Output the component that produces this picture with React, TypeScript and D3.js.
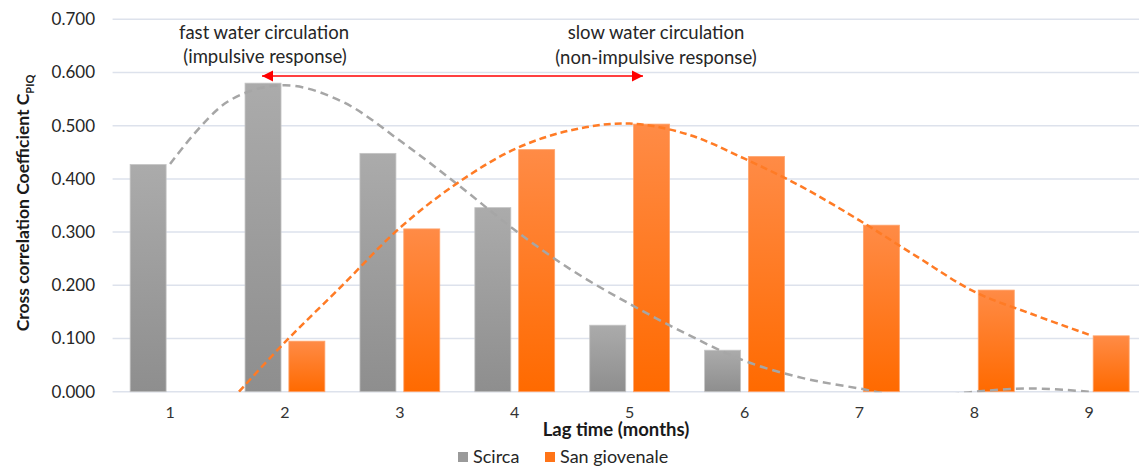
import { useEffect, useRef } from "react"
import * as d3 from "d3"

const lags = ["1", "2", "3", "4", "5", "6", "7", "8", "9"]
const seriesNames = ["Scirca", "San giovenale"]
const scirca = [0.427, 0.58, 0.448, 0.346, 0.125, 0.078, 0, 0, 0]
const sanGiovenale = [0, 0.095, 0.306, 0.455, 0.503, 0.442, 0.313, 0.191, 0.105]
const yTicks = [0, 0.1, 0.2, 0.3, 0.4, 0.5, 0.6, 0.7]

// trendlines as [lag, value]
const scircaTrend: [number, number][] = [
  [1, 0.428], [1.5, 0.545], [2, 0.576], [2.5, 0.545], [3, 0.472], [3.5, 0.39],
  [4, 0.304], [4.5, 0.228], [5, 0.165], [5.5, 0.108], [6, 0.058], [6.5, 0.026],
  [7, 0.006], [7.5, -0.012], [8, 0.0], [8.5, 0.006], [9, 0.0],
]
const sanGiovenaleTrend: [number, number][] = [
  [1.6, 0], [2, 0.093], [2.5, 0.2], [3, 0.308], [3.5, 0.392], [4, 0.456],
  [4.5, 0.492], [5, 0.504], [5.5, 0.484], [6, 0.438], [6.5, 0.385], [7, 0.322],
  [7.5, 0.254], [8, 0.188], [8.5, 0.146], [9, 0.107],
]

const W = 1139
const H = 466
const FONT = "Lato, 'Open Sans', sans-serif"

const App = () => {
  const svgRef = useRef<SVGSVGElement | null>(null)

  useEffect(() => {
    const svg = d3.select(svgRef.current)
    svg.selectAll("*").remove()

    const left = 112.6
    const right = 1146.7
    const y0 = 391.7
    const yTop = 19.3

    const x = d3.scaleBand().domain(lags).range([left, right]).padding(0)
    const xSub = d3
      .scaleBand()
      .domain(seriesNames)
      .range([0, x.bandwidth()])
      .paddingInner(0.179)
      .paddingOuter(0.4)
    const y = d3.scaleLinear().domain([0, 0.7]).range([y0, yTop])
    const xLin = d3
      .scaleLinear()
      .domain([1, 9])
      .range([x("1")! + x.bandwidth() / 2, x("9")! + x.bandwidth() / 2])

    const defs = svg.append("defs")
    const grad = (id: string, top: string, bottom: string) => {
      const g = defs
        .append("linearGradient")
        .attr("id", id)
        .attr("x1", 0).attr("y1", 0).attr("x2", 0).attr("y2", 1)
      g.append("stop").attr("offset", "0%").attr("stop-color", top)
      g.append("stop").attr("offset", "100%").attr("stop-color", bottom)
    }
    grad("g-scirca", "#ababab", "#8e8e8e")
    grad("g-sang", "#ff8b46", "#ff6a00")
    defs
      .append("clipPath")
      .attr("id", "plot-clip")
      .append("rect")
      .attr("x", 0).attr("y", 0).attr("width", W).attr("height", y0 + 0.5)

    const marker = (id: string, orient: string) =>
      defs
        .append("marker")
        .attr("id", id)
        .attr("viewBox", "0 0 10 10")
        .attr("refX", 10).attr("refY", 5)
        .attr("markerWidth", 7).attr("markerHeight", 7)
        .attr("markerUnits", "strokeWidth")
        .attr("orient", orient)
        .append("path")
        .attr("d", "M0,0 L10,5 L0,10 Z")
        .attr("fill", "#ff0000")
    marker("arrow-end", "auto")
    marker("arrow-start", "auto-start-reverse")

    // gridlines
    svg
      .append("g")
      .selectAll("line")
      .data(yTicks)
      .join("line")
      .attr("x1", left).attr("x2", W)
      .attr("y1", (d) => y(d)).attr("y2", (d) => y(d))
      .attr("stroke", "#dde2ec")
      .attr("stroke-width", 1.5)

    // y tick labels
    svg
      .append("g")
      .selectAll("text")
      .data(yTicks)
      .join("text")
      .attr("x", 95)
      .attr("y", (d) => y(d))
      .attr("dy", "0.35em")
      .attr("text-anchor", "end")
      .attr("font-family", FONT)
      .attr("font-size", 17)
      .attr("fill", "#262626")
      .text((d) => d.toFixed(3))

    // x tick labels
    svg
      .append("g")
      .selectAll("text")
      .data(lags)
      .join("text")
      .attr("x", (d) => x(d)! + x.bandwidth() / 2)
      .attr("y", 412)
      .attr("dy", "0.35em")
      .attr("text-anchor", "middle")
      .attr("font-family", FONT)
      .attr("font-size", 16)
      .attr("fill", "#333")
      .text((d) => d)

    // bars
    const rows = lags.map((lag, i) => ({
      lag,
      values: [
        { name: seriesNames[0], v: scirca[i], fill: "url(#g-scirca)", edge: "#c4c4c4" },
        { name: seriesNames[1], v: sanGiovenale[i], fill: "url(#g-sang)", edge: "#ffa36b" },
      ],
    }))
    svg
      .append("g")
      .selectAll("g")
      .data(rows)
      .join("g")
      .attr("transform", (d) => `translate(${x(d.lag)},0)`)
      .selectAll("rect")
      .data((d) => d.values.filter((e) => e.v > 0))
      .join("rect")
      .attr("x", (d) => xSub(d.name)!)
      .attr("y", (d) => y(d.v))
      .attr("width", xSub.bandwidth())
      .attr("height", (d) => y0 - y(d.v))
      .attr("fill", (d) => d.fill)
      .attr("stroke", (d) => d.edge)
      .attr("stroke-width", 0.8)

    // trendlines
    const line = d3
      .line<[number, number]>()
      .x((d) => xLin(d[0]))
      .y((d) => y(d[1]))
      .curve(d3.curveCatmullRom.alpha(0.5))
    const trends = svg.append("g").attr("clip-path", "url(#plot-clip)")
    trends
      .append("path")
      .attr("d", line(scircaTrend))
      .attr("fill", "none")
      .attr("stroke", "#a6a6a6")
      .attr("stroke-width", 2.5)
      .attr("stroke-dasharray", "8,5")
    trends
      .append("path")
      .attr("d", line(sanGiovenaleTrend))
      .attr("fill", "none")
      .attr("stroke", "#ff7b25")
      .attr("stroke-width", 2.5)
      .attr("stroke-dasharray", "7,4")

    // red double arrow
    svg
      .append("line")
      .attr("x1", 262).attr("x2", 643)
      .attr("y1", 76).attr("y2", 76)
      .attr("stroke", "#ff0000")
      .attr("stroke-width", 1.6)
      .attr("marker-start", "url(#arrow-start)")
      .attr("marker-end", "url(#arrow-end)")

    // annotations
    const note = (cx: number, cy: number, s: string) =>
      svg
        .append("text")
        .attr("x", cx).attr("y", cy)
        .attr("dy", "0.35em")
        .attr("text-anchor", "middle")
        .attr("font-family", FONT)
        .attr("font-size", 18.5)
        .attr("fill", "#262626")
        .text(s)
    note(264, 33, "fast water circulation")
    note(265, 57, "(impulsive response)")
    note(656, 33, "slow water circulation")
    note(656, 58, "(non-impulsive response)")

    // axis titles
    svg
      .append("text")
      .attr("x", 616).attr("y", 430)
      .attr("dy", "0.35em")
      .attr("text-anchor", "middle")
      .attr("font-family", FONT)
      .attr("font-size", 18.5)
      .attr("font-weight", "bold")
      .attr("fill", "#1a1a1a")
      .text("Lag time (months)")

    const yt = svg
      .append("text")
      .attr("transform", `translate(23,203) rotate(-90)`)
      .attr("dy", "0.35em")
      .attr("text-anchor", "middle")
      .attr("font-family", FONT)
      .attr("font-size", 17.5)
      .attr("font-weight", "bold")
      .attr("fill", "#1a1a1a")
    yt.append("tspan").text("Cross correlation Coefficient C")
    yt.append("tspan").attr("font-size", 11).attr("dy", "0.45em").text("PIQ")

    // legend
    const legend = svg.append("g").attr("transform", "translate(458,457)")
    const items = [
      { name: seriesNames[0], color: "#9a9a9a", dx: 0 },
      { name: seriesNames[1], color: "#ff7418", dx: 87 },
    ]
    const li = legend
      .selectAll("g")
      .data(items)
      .join("g")
      .attr("transform", (d) => `translate(${d.dx},0)`)
    li.append("rect")
      .attr("x", 0).attr("y", -5)
      .attr("width", 10).attr("height", 10)
      .attr("fill", (d) => d.color)
    li.append("text")
      .attr("x", 15).attr("y", 0)
      .attr("dy", "0.35em")
      .attr("font-family", FONT)
      .attr("font-size", 18)
      .attr("fill", "#262626")
      .text((d) => d.name)
  }, [])

  return (
    <svg
      ref={svgRef}
      width={W}
      height={H}
      style={{ position: "absolute", left: 0, top: 0, background: "#fff" }}
    />
  )
}

export default App
